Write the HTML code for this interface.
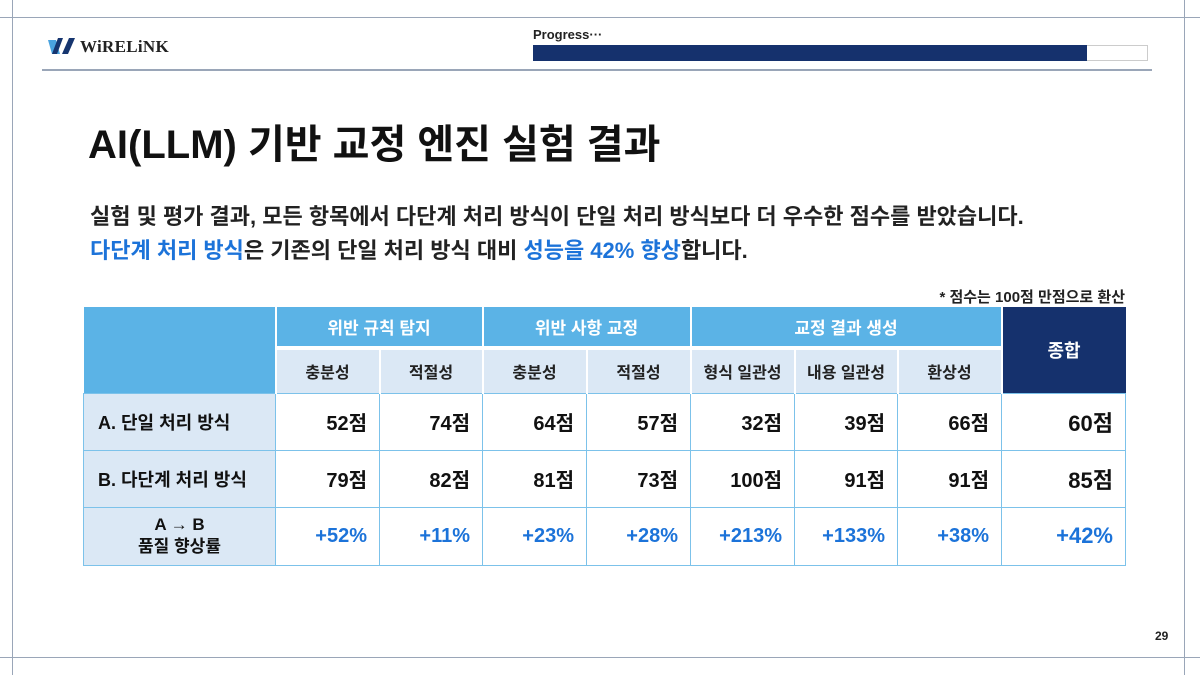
<!DOCTYPE html>
<html><head><meta charset="utf-8"><style>
*{margin:0;padding:0;box-sizing:border-box}
body{width:1200px;height:675px;background:#fff;position:relative;overflow:hidden;font-family:"Liberation Sans","Noto Sans CJK KR",sans-serif;color:#111}
.ln{position:absolute;background:#9aa6b8}
.abs{position:absolute;white-space:nowrap}
table{position:absolute;left:83px;top:307px;border-collapse:collapse;table-layout:fixed}
td{border:1px solid #7cc2ea;text-align:center;font-size:17px;padding:0}
.h1{background:#5bb3e6;color:#fff;font-weight:bold;font-size:17px;height:41px;border-color:#fff;border-width:0 2px 4px 2px}
.h2{background:#dbe8f5;color:#222;font-size:16px;font-weight:bold;height:45px;border-color:#fff;border-width:0 2px 0 2px}
.lab{background:#dbe8f5;text-align:left;padding-left:14px;font-weight:bold;font-size:18px}
.num{text-align:right;padding-right:12px;font-weight:bold;font-size:20px}
.pct{color:#1c73d9}
.tot{font-size:22px}
</style></head><body>
<div class="ln" style="left:0;top:17px;width:1200px;height:1px"></div>
<div class="ln" style="left:0;top:657px;width:1200px;height:1px"></div>
<div class="ln" style="left:12px;top:0;width:1px;height:675px"></div>
<div class="ln" style="left:1184px;top:0;width:1px;height:675px"></div>
<div class="ln" style="left:42px;top:69px;width:1110px;height:2px"></div>
<svg class="abs" style="left:48px;top:36px" width="30" height="20"><polygon points="0,4 8,4 12,18 4,18" fill="#4aa3df"/><polygon points="10,2 15,2 9,18 4,18" fill="#16356f"/><polygon points="21,2 27,2 20,18 14,18" fill="#16356f"/></svg>
<div class="abs" style="left:80px;top:37px;font-family:'Liberation Serif',serif;font-size:17px;font-weight:bold;color:#222;letter-spacing:0.3px">WiRELiNK</div>
<div class="abs" style="left:533px;top:27px;font-size:13px;font-weight:bold;color:#222">Progress···</div>
<div class="abs" style="left:533px;top:45px;width:615px;height:16px;border:1px solid #ccc"></div>
<div class="abs" style="left:533px;top:45px;width:554px;height:16px;background:#15316d"></div>
<div class="abs" style="left:88px;top:112px;font-size:40px;font-weight:bold;color:#111">AI(LLM) 기반 교정 엔진 실험 결과</div>
<div class="abs" style="left:90px;top:199px;font-size:22px;font-weight:bold;color:#222">실험 및 평가 결과, 모든 항목에서 다단계 처리 방식이 단일 처리 방식보다 더 우수한 점수를 받았습니다.</div>
<div class="abs" style="left:90px;top:233px;font-size:22px;font-weight:bold;color:#222"><span style="color:#1c73d9">다단계 처리 방식</span>은 기존의 단일 처리 방식 대비 <span style="color:#1c73d9">성능을 42% 향상</span>합니다.</div>
<div class="abs" style="right:75px;top:286px;font-size:15px;font-weight:bold;color:#222">* 점수는 100점 만점으로 환산</div>
<table>
<colgroup><col style="width:192px"><col style="width:104px"><col style="width:103px"><col style="width:104px"><col style="width:104px"><col style="width:104px"><col style="width:103px"><col style="width:104px"><col style="width:124px"></colgroup>
<tr><td class="h1" rowspan="2" style="border-width:0;border-right:2px solid #fff;"></td><td class="h1" colspan="2">위반 규칙 탐지</td><td class="h1" colspan="2">위반 사항 교정</td><td class="h1" colspan="3">교정 결과 생성</td><td rowspan="2" style="background:#15316d;color:#fff;font-weight:bold;font-size:18px;border:0">종합</td></tr>
<tr><td class="h2">충분성</td><td class="h2">적절성</td><td class="h2">충분성</td><td class="h2">적절성</td><td class="h2">형식 일관성</td><td class="h2">내용 일관성</td><td class="h2">환상성</td></tr>
<tr style="height:57px"><td class="lab">A. 단일 처리 방식</td><td class="num">52점</td><td class="num">74점</td><td class="num">64점</td><td class="num">57점</td><td class="num">32점</td><td class="num">39점</td><td class="num">66점</td><td class="num tot">60점</td></tr>
<tr style="height:57px"><td class="lab">B. 다단계 처리 방식</td><td class="num">79점</td><td class="num">82점</td><td class="num">81점</td><td class="num">73점</td><td class="num">100점</td><td class="num">91점</td><td class="num">91점</td><td class="num tot">85점</td></tr>
<tr style="height:58px"><td class="lab" style="text-align:center;padding:0;line-height:22px;font-size:17px">A → B<br>품질 향상률</td><td class="num pct">+52%</td><td class="num pct">+11%</td><td class="num pct">+23%</td><td class="num pct">+28%</td><td class="num pct">+213%</td><td class="num pct">+133%</td><td class="num pct">+38%</td><td class="num pct tot">+42%</td></tr>
</table>
<div class="abs" style="left:1155px;top:629px;font-size:12px;font-weight:bold;color:#222">29</div>
</body></html>
